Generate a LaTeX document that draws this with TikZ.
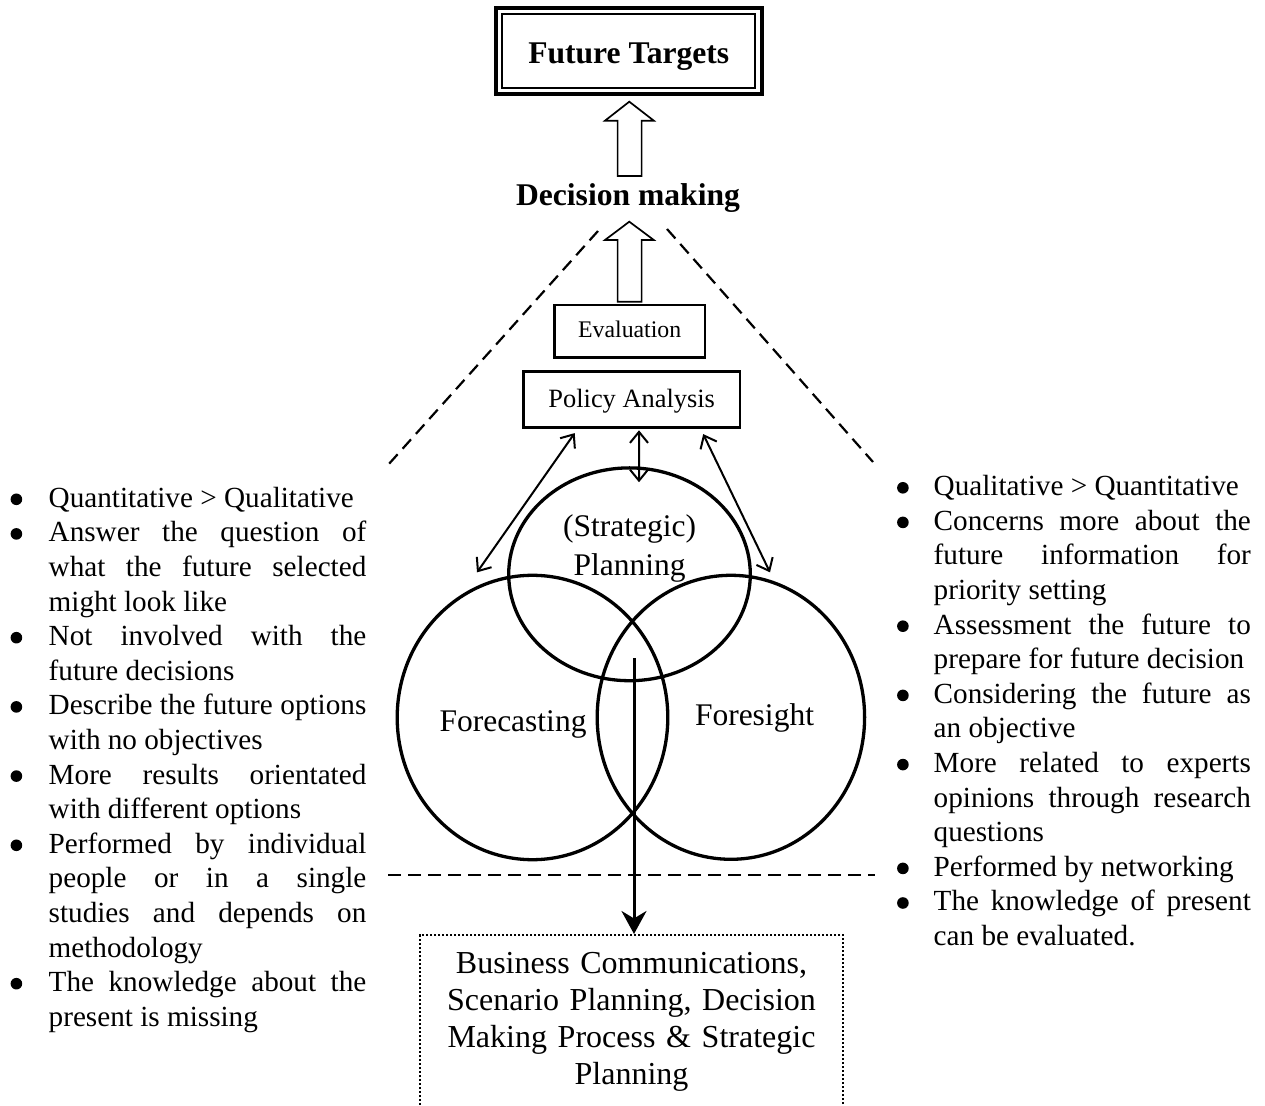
\documentclass[tikz,border=0pt]{standalone}
\usepackage{fontspec}
\setmainfont{Liberation Serif}
\usetikzlibrary{arrows.meta,shapes.geometric}

% bullet lists: hanging indent with a drawn round bullet
\newlength\bulhang
\newlength\bulgap
\newsavebox\bulbox
\newcommand\bulitem{\par\noindent\hangindent=\bulhang\hangafter=0\strut
  \llap{\raisebox{1.1pt}{\usebox\bulbox}\hspace{\bulgap}}\ignorespaces}

\begin{document}
\sbox\bulbox{\begin{pgfpicture}\pgfpathcircle{\pgfpointorigin}{2.9pt}\pgfusepath{fill}\end{pgfpicture}}%
\begin{tikzpicture}[x=0.5pt,y=-0.5pt,
  every node/.style={inner sep=0pt},
  frame/.style={draw, line width=1.3pt},
  venn/.style={draw, ellipse, line width=1.65pt, inner sep=0pt},
  vlabel/.style={font=\fontsize{15.75pt}{19.5pt}\selectfont},
  dbl/.style={line width=1pt, >={Straight Barb[length=5.5pt,width=9pt]}, <->},
  feed/.style={line width=1.5pt, -{Stealth[length=11.5pt,width=12.5pt]}},
  guide/.style={line width=1.1pt, dash pattern=on 6.3pt off 3.7pt},
  hollow/.style={draw, line width=0.85pt, line join=miter, fill=white},
  listtext/.style={anchor=north west, align=justify,
    font=\fontsize{14.6pt}{17.3pt}\selectfont}
]
\useasboundingbox (0,0) rectangle (1265,1106);
\fill[white] (0,0) rectangle (1265,1106);
\clip (0,0) rectangle (1265,1106);

% ---- top target box (double frame) ----
\node[draw, line width=1.1pt, minimum width=126.55pt, minimum height=36.9pt,
      text height=12.9pt, text depth=0pt,
      font=\fontsize{15.8pt}{19pt}\selectfont\bfseries] (ft) at (628.75,51.1) {Future Targets};
\draw[line width=2pt] ([shift={(-5.2,-5.2)}]ft.north west) rectangle ([shift={(5.1,5)}]ft.south east);

% ---- decision making label ----
\node[anchor=base, font=\fontsize{15.8pt}{19pt}\selectfont\bfseries] (dm) at (628,205.5) {Decision making};

% ---- hollow block arrows ----
\draw[hollow] (617.6,176) -- (617.6,120.7) -- (605,120.7) -- (629.3,101.7)
  -- (653.8,120.7) -- (641.6,120.7) -- (641.6,176) -- cycle;
\draw[hollow] (617.6,301.7) -- (617.6,240) -- (605,240) -- (629.3,221.7)
  -- (653.8,240) -- (641.6,240) -- (641.6,301.7) -- cycle;

% ---- evaluation and policy analysis ----
\node[frame, minimum width=75.3pt, minimum height=26.2pt, text height=6.5pt, text depth=0pt,
      font=\fontsize{11.9pt}{14pt}\selectfont] (ev) at (629.7,331.2) {Evaluation};
\node[frame, minimum width=108.3pt, minimum height=27.8pt, text height=7.8pt, text depth=0pt,
      font=\fontsize{13.2pt}{15pt}\selectfont] (pa) at (631.7,399.5) {Policy Analysis};

% ---- venn circles ----
\node[venn, minimum width=120.8pt, minimum height=106.4pt] (pl) at (629.5,574.3) {};
\node[venn, minimum width=135.3pt, minimum height=142.2pt] (fc) at (532.5,717.5) {};
\node[venn, minimum width=133.7pt, minimum height=142pt] (fs) at (730.9,717.3) {};

\node[vlabel, anchor=north, text width=120pt, align=center] (pllabel) at (629.5,509)
  {\strut(Strategic)\\Planning};
\node[vlabel, anchor=base] (fclabel) at (513,731.7) {Forecasting};
\node[vlabel, anchor=base] (fslabel) at (754.5,726) {Foresight};

% ---- links between policy analysis and the circles ----
\draw[dbl] ([shift={(-57,4.5)}]pa.south) -- ([shift={(-55.5,-1.3)}]fc.north);
\draw[dbl] ([shift={(7.3,1.7)}]pa.south) -- ([shift={(9.5,16)}]pl.north);
\draw[dbl] ([shift={(71.5,5.5)}]pa.south) -- ([shift={(39.1,-1.3)}]fs.north);

% ---- dashed guides ----
\draw[guide] (598,231) -- (388,465);
\draw[guide] (667,229) -- (873,462);
\draw[guide] (388,875) -- (875,875);

% ---- applications box and the arrow into it ----
\node[draw, line width=1pt, dash pattern=on 1pt off 1pt, anchor=north,
      text width=211.5pt, align=center, inner xsep=0pt, inner ysep=6.6pt, text depth=75pt,
      font=\fontsize{16pt}{18.4pt}\selectfont] (apps) at (631.5,934)
  {\strut Business Communications,\\ Scenario Planning, Decision\\ Making Process \& Strategic\\ Planning};
\coordinate (core) at (634,658.3);
\draw[feed] (core) -- (core |- apps.north);

% ---- left bullet list ----
\node[listtext, text width=183pt] (leftlist) at (0,472.3) {%
\setlength\bulhang{24.15pt}\setlength\bulgap{13.25pt}%
\tolerance=10000 \hyphenpenalty=10000 \parskip=0pt
\bulitem Quantitative > Qualitative
\bulitem Answer the question of \linebreak what the future selected \linebreak might look like
\bulitem Not involved with the \linebreak future decisions
\bulitem Describe the future options \linebreak with no objectives
\bulitem More results orientated \linebreak with different options
\bulitem Performed by individual \linebreak people or in a single \linebreak studies and depends on \linebreak methodology
\bulitem The knowledge about the \linebreak present is missing\par};

% ---- right bullet list ----
\node[listtext, text width=185.25pt] (rightlist) at (880,460.8) {%
\setlength\bulhang{26.65pt}\setlength\bulgap{12.5pt}%
\tolerance=10000 \hyphenpenalty=10000 \parskip=0pt
\bulitem Qualitative > Quantitative
\bulitem Concerns more about the \linebreak future information for \linebreak priority setting
\bulitem Assessment the future to \linebreak prepare for future decision
\bulitem Considering the future as \linebreak an objective
\bulitem More related to experts \linebreak opinions through research \linebreak questions
\bulitem Performed by networking
\bulitem The knowledge of present \linebreak can be evaluated.\par};
\end{tikzpicture}
\end{document}
